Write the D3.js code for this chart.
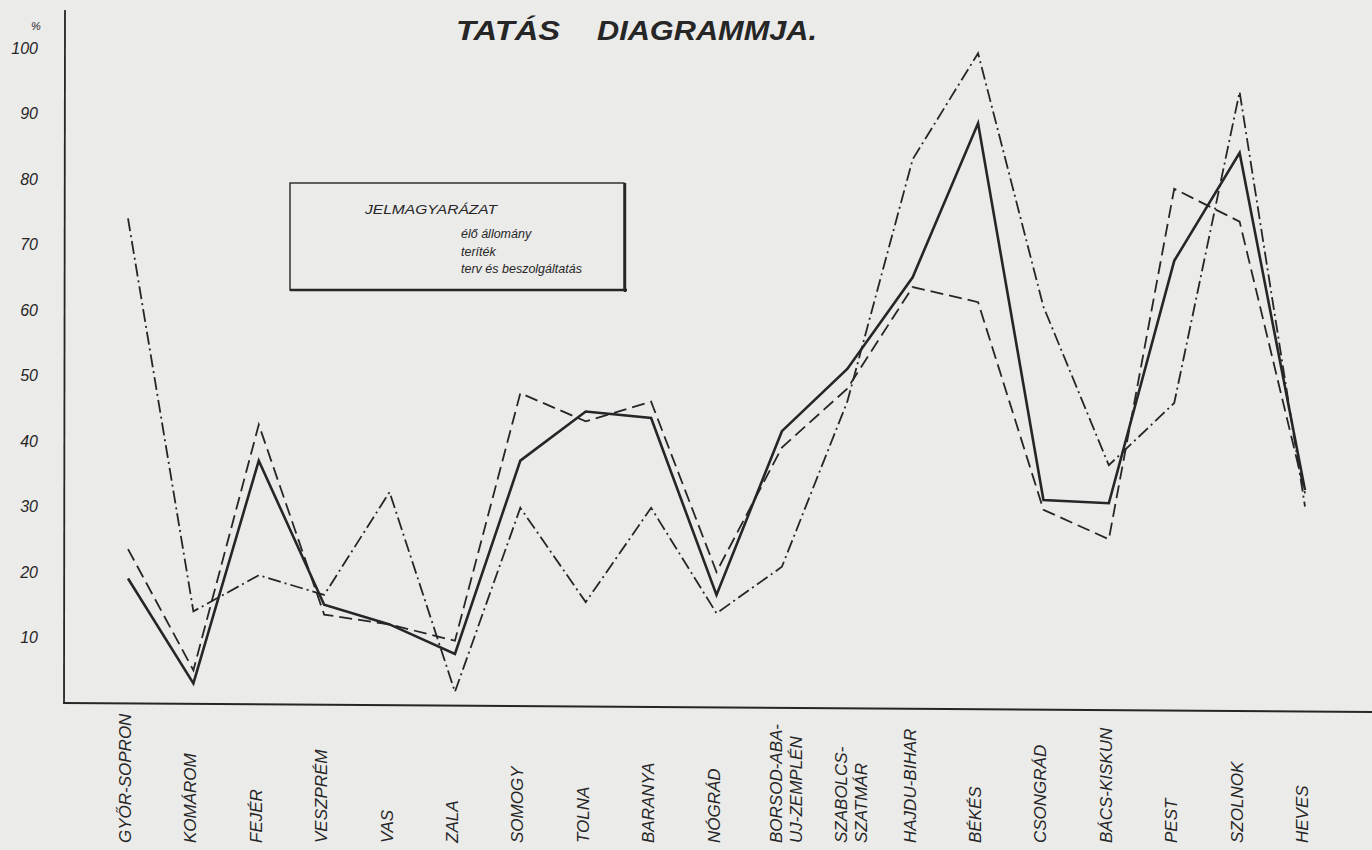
<!DOCTYPE html>
<html>
<head>
<meta charset="utf-8">
<script src="https://cdn.jsdelivr.net/npm/d3@7"></script>
<style>
  html, body { margin: 0; padding: 0; background: #ebebea; }
  svg { display: block; }
  text { fill: #262626; font-family: "Liberation Sans", Arial, sans-serif; font-style: italic; }
</style>
</head>
<body>
<svg id="chart" width="1372" height="850"></svg>
<script>
// Counties along the horizontal axis
const counties = [
  ["GYŐR-SOPRON"], ["KOMÁROM"], ["FEJÉR"], ["VESZPRÉM"], ["VAS"], ["ZALA"],
  ["SOMOGY"], ["TOLNA"], ["BARANYA"], ["NÓGRÁD"], ["BORSOD-ABA-", "UJ-ZEMPLÉN"],
  ["SZABOLCS-", "SZATMÁR"], ["HAJDU-BIHAR"], ["BÉKÉS"], ["CSONGRÁD"],
  ["BÁCS-KISKUN"], ["PEST"], ["SZOLNOK"], ["HEVES"]
];
const countyKeys = counties.map(c => c.join(" "));

// Percentages per county
const eloAllomany = [19, 3, 37, 15, 12, 7.5, 37, 44.5, 43.5, 16.5, 41.5, 51, 65, 88.5, 31, 30.5, 67.5, 84, 32.5];
const teritek     = [23.5, 5, 42.5, 13.5, 12, 9.5, 47.3, 43, 46, 20, 39, 48, 63.5, 61.2, 29.5, 25, 78.5, 73.5, 32];
const tervBeszolg = [74, 14, 19.5, 16.5, 32.2, 1.7, 29.8, 15.4, 29.8, 13.7, 20.8, 46, 83, 99.2, 60.5, 36.3, 45.8, 93.3, 30];

const yTicks = [10, 20, 30, 40, 50, 60, 70, 80, 90, 100];
const legendTitle = "JELMAGYARÁZAT";
const legendItems = ["élő állomány", "teríték", "terv és beszolgáltatás"];

const svg = d3.select("#chart");
const ink = "#262626";

const x = d3.scalePoint().domain(countyKeys).range([128, 1305]);
const y = d3.scaleLinear().domain([0, 100]).range([703, 48]);

// Title
const title = svg.append("g").attr("font-weight", "bold").attr("font-size", 27);
title.append("text").attr("x", 456).attr("y", 40).attr("textLength", 104)
  .attr("lengthAdjust", "spacingAndGlyphs").text("TATÁS");
title.append("text").attr("x", 597).attr("y", 40).attr("textLength", 220)
  .attr("lengthAdjust", "spacingAndGlyphs").text("DIAGRAMMJA.");

// Axes
svg.append("line").attr("x1", 65).attr("x2", 64).attr("y1", 10).attr("y2", y(0))
  .attr("stroke", ink).attr("stroke-width", 1.8);
svg.append("line").attr("x1", 63).attr("x2", 1372).attr("y1", y(0)).attr("y2", y(0) + 9)
  .attr("stroke", ink).attr("stroke-width", 2);

// Vertical axis numbering
const yAxis = d3.axisLeft(y).tickValues(yTicks).tickSize(0).tickPadding(0);
const yg = svg.append("g").attr("transform", "translate(38,0)").call(yAxis);
yg.select(".domain").remove();
yg.selectAll("text").attr("font-size", 16).attr("fill", ink)
  .attr("font-family", "'Liberation Sans', Arial, sans-serif").attr("font-style", "italic");
svg.append("text").attr("x", 36).attr("y", 30).attr("font-size", 11)
  .attr("text-anchor", "middle").text("%");

// County names, written upwards from the bottom edge
const xl = svg.append("g").attr("font-size", 17);
counties.forEach((lines, i) => {
  const n = lines.length;
  const cx = x(countyKeys[i]) + (n > 1 ? 4 : -3);
  lines.forEach((t, j) => {
    const px = cx + (j - (n - 1) / 2) * 20 + 6;
    xl.append("text")
      .attr("transform", `translate(${px},843) rotate(-90)`)
      .attr("text-anchor", "start").text(t);
  });
});

// Series lines
const series = [
  { values: eloAllomany, width: 2.6, dash: null },
  { values: teritek,     width: 1.8, dash: "13,6" },
  { values: tervBeszolg, width: 1.8, dash: "13,4,2,4" }
];
const line = d3.line().x((d, i) => x(countyKeys[i])).y(d => y(d));
svg.append("g").selectAll("path").data(series).join("path")
  .attr("d", s => line(s.values))
  .attr("fill", "none")
  .attr("stroke", ink)
  .attr("stroke-width", s => s.width)
  .attr("stroke-dasharray", s => s.dash)
  .attr("stroke-linejoin", "miter");

// Legend box
const lg = svg.append("g");
lg.append("rect").attr("x", 290).attr("y", 183).attr("width", 334).attr("height", 107)
  .attr("fill", "none").attr("stroke", ink).attr("stroke-width", 1.4);
lg.append("line").attr("x1", 290).attr("x2", 627).attr("y1", 290).attr("y2", 290)
  .attr("stroke", ink).attr("stroke-width", 2.6);
lg.append("line").attr("x1", 625).attr("x2", 625).attr("y1", 183).attr("y2", 292)
  .attr("stroke", ink).attr("stroke-width", 2.4);
lg.append("text").attr("x", 365).attr("y", 214).attr("font-size", 12)
  .attr("textLength", 132).attr("lengthAdjust", "spacingAndGlyphs").text(legendTitle);
lg.selectAll("text.item").data(legendItems).join("text").attr("class", "item")
  .attr("x", 461).attr("y", (d, i) => 238 + i * 17.5).attr("font-size", 12.5)
  .text(d => d);
</script>
</body>
</html>
